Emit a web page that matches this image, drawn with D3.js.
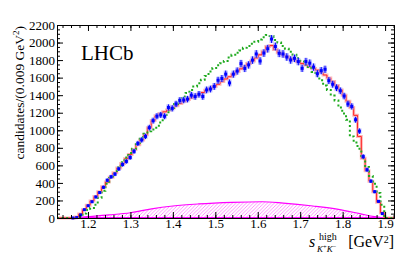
<!DOCTYPE html>
<html>
<head>
<meta charset="utf-8">
<script src="https://cdn.jsdelivr.net/npm/d3@7"></script>
<style>
  body { margin: 0; background: #fff; }
  svg { display: block; }
</style>
</head>
<body>
<div id="chart"></div>
<script>
// binning: 0.009 GeV^2 wide bins starting at 1.160
const binStart = 1.160;
const binWidth = 0.009;

// data points (candidates per bin)
const dataVals = [0,5,35,95,140,185,240,290,350,430,
  470,500,560,610,645,690,760,850,890,930,
  1030,1110,1160,1175,1160,1260,1250,1300,1340,1345,
  1355,1400,1385,1410,1385,1460,1470,1500,1570,1590,
  1640,1540,1640,1675,1760,1705,1745,1800,1870,1790,
  1880,1930,2040,1955,1877,1870,1835,1801,1820,1783,
  1706,1783,1765,1720,1645,1680,1695,1566,1525,1485,
  1450,1390,1300,1272,1120,990,700,550,420,300,
  190,50];

// full fit (red histogram)
const fitVals = [0,10,45,95,145,195,245,300,355,410,
  465,515,570,620,675,725,780,835,890,950,
  1030,1110,1165,1190,1210,1230,1255,1280,1305,1330,
  1350,1370,1390,1410,1430,1455,1475,1500,1525,1555,
  1585,1610,1640,1670,1700,1730,1760,1790,1825,1860,
  1900,1955,1965,1920,1885,1860,1840,1820,1800,1780,
  1760,1745,1725,1705,1685,1660,1630,1595,1555,1510,
  1460,1400,1330,1260,1170,930,680,540,420,300,
  180,60];

// alternative model (green dotted histogram)
const altVals = [0,0,10,50,90,115,150,230,310,390,
  455,510,575,635,690,740,790,855,920,960,
  990,1010,1030,1090,1150,1205,1255,1300,1345,1385,
  1425,1460,1500,1535,1575,1620,1670,1710,1740,1765,
  1790,1830,1860,1885,1910,1940,1960,1985,2010,2035,
  2060,2085,2075,2030,2000,1960,1930,1895,1860,1820,
  1790,1750,1710,1665,1620,1570,1510,1460,1395,1340,
  1260,1190,1120,930,860,790,680,580,480,390,
  285,150];

// background (magenta hatched)
const bkgX = [1.160,1.200,1.250,1.300,1.350,1.400,1.460,1.540,1.610,1.660,1.730,1.790,1.840,1.875,1.897];
const bkgY = [0,15,35,60,105,137,160,178,185,170,137,99,50,15,0];

const xTicks = [1.2,1.3,1.4,1.5,1.6,1.7,1.8,1.9];
const yTicks = [0,200,400,600,800,1000,1200,1400,1600,1800,2000,2200];

const W = 407, H = 254;
const margin = {top: 25, right: 13, bottom: 36, left: 57};
const width = W - margin.left - margin.right,
      height = H - margin.top - margin.bottom;
const serif = "'Liberation Serif', 'Times New Roman', serif";

const svg = d3.select("#chart").append("svg")
  .attr("width", W).attr("height", H)
  .style("font-family", serif);

const defs = svg.append("defs");
defs.append("pattern")
  .attr("id", "hatch")
  .attr("patternUnits", "userSpaceOnUse")
  .attr("width", 3.5).attr("height", 3.5)
  .append("path")
  .attr("d", "M0,3.5 L3.5,0 M-1,1 L1,-1 M2.5,4.5 L4.5,2.5")
  .attr("fill", "none")
  .attr("stroke", "#ff66ff")
  .attr("stroke-width", 0.7);

const g = svg.append("g")
  .attr("transform", "translate(" + margin.left + "," + margin.top + ")");

const x = d3.scaleLinear().domain([1.127, 1.921]).range([0, width]);
const y = d3.scaleLinear().domain([0, 2200]).range([height, 0]);

// step path helper
function stepPoints(vals) {
  let pts = [{x: x.domain()[0], y: 0}];
  vals.forEach((v, i) => pts.push({x: binStart + i * binWidth, y: v}));
  pts.push({x: binStart + vals.length * binWidth, y: 0});
  pts.push({x: x.domain()[1], y: 0});
  return pts;
}
const stepLine = d3.line()
  .x(d => x(d.x)).y(d => y(d.y))
  .curve(d3.curveStepAfter);

// background
const bkg = bkgX.map((v, i) => ({x: v, y: bkgY[i]}));
g.append("path")
  .datum(bkg)
  .attr("d", d3.area().x(d => x(d.x)).y0(y(0)).y1(d => y(d.y)).curve(d3.curveMonotoneX))
  .attr("fill", "url(#hatch)")
  .attr("stroke", "none");
g.append("path")
  .datum(bkg)
  .attr("d", d3.line().x(d => x(d.x)).y(d => y(d.y)).curve(d3.curveMonotoneX))
  .attr("fill", "none")
  .attr("stroke", "#ff00ff")
  .attr("stroke-width", 1.2);
g.append("line")
  .attr("x1", 0).attr("x2", width)
  .attr("y1", y(0) - 0.5).attr("y2", y(0) - 0.5)
  .attr("stroke", "#ff00ff").attr("stroke-width", 1);

// full fit, with pale band
g.append("path")
  .datum(stepPoints(fitVals))
  .attr("d", stepLine)
  .attr("fill", "none")
  .attr("stroke", "#ff9a9a")
  .attr("stroke-width", 3)
  .attr("opacity", 0.7);
g.append("path")
  .datum(stepPoints(fitVals))
  .attr("d", stepLine)
  .attr("fill", "none")
  .attr("stroke", "#ff2020")
  .attr("stroke-width", 1);

// alternative model
g.append("path")
  .datum(stepPoints(altVals))
  .attr("d", stepLine)
  .attr("fill", "none")
  .attr("stroke", "#1faa1f")
  .attr("stroke-width", 2)
  .attr("stroke-dasharray", "2,2.6");

// data points
const pts = g.append("g").selectAll("g")
  .data(dataVals)
  .enter().append("g")
  .attr("transform", (d, i) => "translate(" + x(binStart + (i + 0.5) * binWidth) + "," + y(d) + ")");
pts.append("rect")
  .attr("x", -2).attr("width", 4)
  .attr("y", d => y(d + Math.sqrt(d)) - y(d))
  .attr("height", d => y(d - Math.sqrt(d)) - y(d + Math.sqrt(d)))
  .attr("fill", "#9b9bff")
  .attr("opacity", 0.7);
pts.append("line")
  .attr("y1", d => y(d + Math.sqrt(d)) - y(d))
  .attr("y2", d => y(d - Math.sqrt(d)) - y(d))
  .attr("stroke", "#0000ff").attr("stroke-width", 1);
pts.append("rect")
  .attr("x", -1.5).attr("y", -1.5)
  .attr("width", 3).attr("height", 3)
  .attr("fill", "#0000ff");

// axes (ROOT style, inward ticks)
const xMinor = d3.range(1.14, 1.921, 0.02);
const yMinor = d3.range(0, 2201, 50);

function styleAxis(sel) {
  sel.selectAll("path.domain").attr("stroke", "#000");
  sel.selectAll(".tick line").attr("stroke", "#000");
  sel.selectAll("text")
    .attr("fill", "#000")
    .style("font-family", serif)
    .style("font-size", "13px");
}

g.append("g").attr("transform", "translate(0," + height + ")")
  .call(d3.axisBottom(x).tickValues(xMinor).tickFormat("").tickSizeInner(-3).tickSizeOuter(0))
  .call(styleAxis);
g.append("g").attr("transform", "translate(0," + height + ")")
  .call(d3.axisBottom(x).tickValues(xTicks).tickFormat(d3.format(".1f")).tickSizeInner(-6).tickSizeOuter(0).tickPadding(1))
  .call(styleAxis);
g.append("g")
  .call(d3.axisTop(x).tickValues(xMinor).tickFormat("").tickSizeInner(-3).tickSizeOuter(0))
  .call(styleAxis);
g.append("g")
  .call(d3.axisTop(x).tickValues(xTicks).tickFormat("").tickSizeInner(-6).tickSizeOuter(0))
  .call(styleAxis);

g.append("g")
  .call(d3.axisLeft(y).tickValues(yMinor).tickFormat("").tickSizeInner(-3).tickSizeOuter(0))
  .call(styleAxis);
g.append("g")
  .call(d3.axisLeft(y).tickValues(yTicks).tickFormat(d3.format("d")).tickSizeInner(-6).tickSizeOuter(0).tickPadding(2))
  .call(styleAxis);
g.append("g").attr("transform", "translate(" + width + ",0)")
  .call(d3.axisRight(y).tickValues(yMinor).tickFormat("").tickSizeInner(-3).tickSizeOuter(0))
  .call(styleAxis);
g.append("g").attr("transform", "translate(" + width + ",0)")
  .call(d3.axisRight(y).tickValues(yTicks).tickFormat("").tickSizeInner(-6).tickSizeOuter(0))
  .call(styleAxis);

// y title
const yt = svg.append("text")
  .attr("transform", "translate(" + 24 + "," + (margin.top + 1) + ") rotate(-90)")
  .attr("text-anchor", "end")
  .style("font-size", "13.5px")
  .attr("fill", "#000");
yt.append("tspan").text("candidates/(0.009 GeV");
yt.append("tspan").attr("baseline-shift", "super").style("font-size", "9px").text("2");
yt.append("tspan").text(")");

// x title, built from pieces
const xr = margin.left + width;
const xt = svg.append("text")
  .attr("x", xr).attr("y", 246.5)
  .attr("text-anchor", "end")
  .style("font-size", "16px")
  .attr("fill", "#000");
xt.append("tspan").text("[GeV");
xt.append("tspan").attr("dy", -4).style("font-size", "10px").text("2");
xt.append("tspan").attr("dy", 4).text("]");

svg.append("text")
  .attr("x", 309).attr("y", 246.5)
  .style("font-size", "16px").style("font-style", "italic")
  .attr("fill", "#000").text("s");
svg.append("text")
  .attr("x", 319).attr("y", 239.5)
  .style("font-size", "10px")
  .attr("fill", "#000").text("high");
const sub = svg.append("text")
  .attr("x", 317).attr("y", 251.5)
  .style("font-size", "9px").style("font-style", "italic")
  .attr("fill", "#000");
sub.append("tspan").text("K");
sub.append("tspan").attr("dy", -3).style("font-size", "6.5px").style("font-style", "normal").text("+");
sub.append("tspan").attr("dy", 3).text("K");
sub.append("tspan").attr("dy", -3).style("font-size", "6.5px").style("font-style", "normal").text("\u2212");

// LHCb label
svg.append("text")
  .attr("x", 81).attr("y", 60)
  .style("font-size", "21px")
  .attr("fill", "#000")
  .text("LHCb");
</script>
</body>
</html>
